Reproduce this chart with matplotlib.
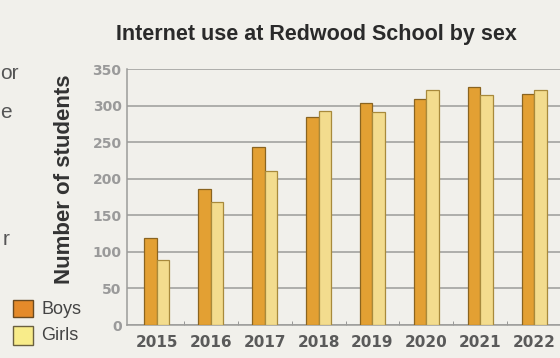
import matplotlib.pyplot as plt
import numpy as np

plt.rcParams['font.family'] = ['Liberation Sans', 'DejaVu Sans']

# data
years = ['2015', '2016', '2017', '2018', '2019', '2020', '2021', '2022']
boys = [119, 186, 243, 284, 303, 309, 325, 316]
girls = [89, 168, 211, 293, 291, 322, 315, 322]

bg = '#f1f0eb'
fig = plt.figure(figsize=(5.6, 3.58), dpi=100, facecolor=bg)
ax = fig.add_axes([0.227, 0.092, 0.78, 0.715], facecolor=bg)

x = np.arange(len(years))
w = 0.235
ax.bar(x - w / 2, boys, w, color='#e3a033', edgecolor='#8a6420', linewidth=0.9, zorder=3)
ax.bar(x + w / 2, girls, w, color='#f3dc8e', edgecolor='#a88a3c', linewidth=0.9, zorder=3)

ax.set_xlim(-0.55, 7.55)
ax.set_ylim(0, 350)
ax.set_yticks(range(0, 351, 50))
ax.yaxis.grid(True, color='#9c9c9a', linewidth=1.1, zorder=0)
ax.set_xticks(x)
ax.set_xticklabels(years, fontsize=11, fontweight='bold', color='#5a5a5a',
                   family='DejaVu Sans')
ax.set_xticks(x[:-1] + 0.5, minor=True)
ax.tick_params(axis='x', which='major', length=0, pad=7)
ax.tick_params(axis='x', which='minor', length=3, direction='in', color='#888888')
ax.tick_params(axis='y', length=0, pad=4, labelsize=10, labelcolor='#9a9a9a')
for lbl in ax.get_yticklabels():
    lbl.set_fontweight('bold')
    lbl.set_family('DejaVu Sans')

for s in ['top', 'right']:
    ax.spines[s].set_visible(False)
ax.spines['left'].set_color('#9c9c9a')
ax.spines['bottom'].set_color('#9c9c9a')
ax.spines['left'].set_linewidth(1.1)
ax.spines['bottom'].set_linewidth(1.1)

fig.text(0.116, 0.5, 'Number of students', rotation=90, ha='center', va='center',
         fontsize=16, fontweight='bold', color='#333333')
fig.text(0.565, 0.905, 'Internet use at Redwood School by sex', ha='center', va='center',
         fontsize=15.5, fontweight='bold', color='#2a2a2a')

# legend boxes at lower left
fig.patches.append(plt.Rectangle((0.024, 0.115), 0.035, 0.048, transform=fig.transFigure,
                                 facecolor='#e48a2a', edgecolor='#6a4a20', linewidth=1))
fig.patches.append(plt.Rectangle((0.024, 0.037), 0.035, 0.052, transform=fig.transFigure,
                                 facecolor='#f8ec8a', edgecolor='#6a6040', linewidth=1))
fig.text(0.074, 0.135, 'Boys', fontsize=13, color='#444444', va='center')
fig.text(0.074, 0.062, 'Girls', fontsize=13, color='#444444', va='center')

# fragments of neighbouring page text
fig.text(0.0, 0.795, 'or', fontsize=15, color='#555555', va='center')
fig.text(0.0, 0.685, 'e', fontsize=15, color='#555555', va='center')
fig.text(0.004, 0.33, 'r', fontsize=15, color='#555555', va='center')

fig.savefig('out.png', dpi=100, facecolor=bg)
